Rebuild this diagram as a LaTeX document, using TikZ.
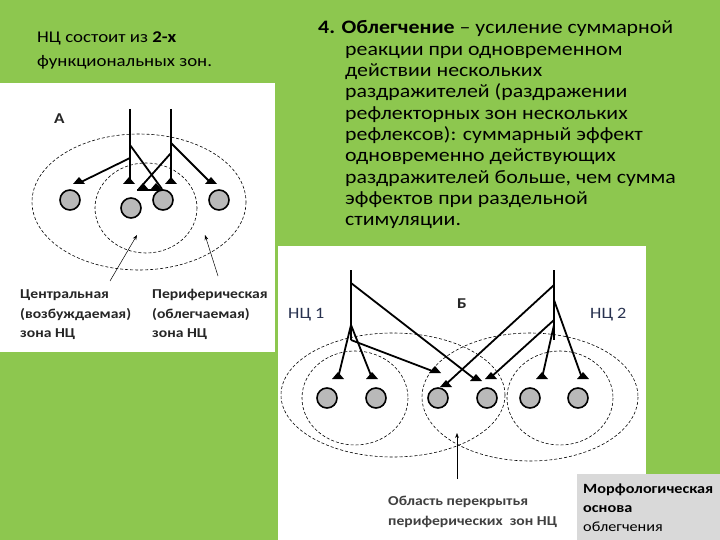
\documentclass[tikz,border=0pt]{standalone}
\usepackage{fontspec}
\setmainfont[FakeStretch=1.15]{Carlito}
\begin{document}
\begin{tikzpicture}[x=1pt,y=-1pt,
  cell/.style={circle,draw=black,line width=1.6pt,fill=gray!55,minimum size=20pt,inner sep=0},
  zone/.style={dashed,line width=0.6pt,dash pattern=on 3pt off 2pt},
  fib/.style={line width=1.8pt},
  thin/.style={-{Stealth[length=5pt]},line width=0.5pt},
  lbl/.style={anchor=base west,inner sep=0,font=\fontsize{13.6}{15}\selectfont\bfseries,text=black!85},
  tx/.style={anchor=base west,inner sep=0,font=\fontsize{19}{21}\selectfont}]
\usetikzlibrary{arrows.meta}
\newcommand\syn[1]{\fill #1 ++(-6,0) -- ++(12,0) -- ++(-6,-7) -- cycle;}
\fill[fill={rgb,255:red,141;green,199;blue,79}] (0,0) rectangle (720,540);
\useasboundingbox (0,0) rectangle (720,540);
\fill[white] (0,83) rectangle (275,352);
\fill[white] (278,246) rectangle (646,540);
\fill[gray!30] (577,474) rectangle (720,540);
% top text
\node[anchor=base west,inner sep=0,font=\fontsize{16.4}{18}\selectfont] (t1) at (37,43) {НЦ состоит из \textbf{2-х}};
\node[anchor=base west,inner sep=0,font=\fontsize{16.4}{18}\selectfont] (t2) at (37,67) {функциональных зон.};
\node[tx] (r1) at (318,34) {\textbf{4. Облегчение} – усиление суммарной};
\foreach \t [count=\i] in {реакции при одновременном,действии нескольких,раздражителей (раздражении,рефлекторных зон нескольких,{рефлексов): суммарный эффект},одновременно действующих,{раздражителей больше, чем сумма},эффектов при раздельной,стимуляции.}
  \node[tx] (r\i x) at (345,34+21.3*\i) {\t};
% Panel A
\node[lbl,font=\fontsize{15}{16}\selectfont\bfseries] (A) at (54,124) {А};
\draw[zone] (139,202) ellipse (107 and 68);
\draw[zone] (146,208) ellipse (51 and 45);
\node[cell] (a1) at (70,200) {};
\node[cell] (a2) at (131,208) {};
\node[cell] (a3) at (163,200) {};
\node[cell] (a4) at (219,200) {};
\draw[fib] (130,109) -- (130,183);
\draw[fib] (171,109) -- (171,183);
\draw[fib] (130,158) -- (79,183);
\draw[fib] (171,143) -- (211,183);
\draw[fib] (130,145) -- (162,189);
\draw[fib] (171,153) -- (139,189);
\draw[fib] (137,190) -- (163,190);
\syn{(79,184)}\syn{(129,184)}\syn{(171,184)}\syn{(211,184)}
\syn{(143,190)}\syn{(156,190)}
\coordinate (aa1) at (110,281); \coordinate (aa2) at (137,235);
\coordinate (ab1) at (218,276); \coordinate (ab2) at (205,235);
\draw[thin] (aa1) -- (aa2);
\draw[thin] (ab1) -- (ab2);
\node[lbl] (la1) at (20,298) {Центральная};
\node[lbl] (la2) at (20,318) {(возбуждаемая)};
\node[lbl] (la3) at (20,337) {зона НЦ};
\node[lbl] (lb1) at (152,298) {Периферическая};
\node[lbl] (lb2) at (152,318) {(облегчаемая)};
\node[lbl] (lb3) at (152,337) {зона НЦ};
% Panel B
\node[lbl,font=\fontsize{15}{16}\selectfont\bfseries] (B) at (457,308) {Б};
\node[lbl,font=\fontsize{15.8}{16}\selectfont,text={rgb,255:red,40;green,50;blue,80}] (n1) at (288,318) {НЦ 1};
\node[lbl,font=\fontsize{15.8}{16}\selectfont,text={rgb,255:red,40;green,50;blue,80}] (n2) at (590,318) {НЦ 2};
\draw[zone] (393,395) ellipse (112 and 62);
\draw[zone] (355,398) ellipse (53 and 47);
\draw[zone] (530,397) ellipse (108 and 64);
\draw[zone] (560,398) ellipse (53 and 47);
\foreach \x [count=\i] in {327,376,438,487,530,578} \node[cell] (b\i) at (\x,398) {};
\draw[fib] (351,270) -- (351,340);
\draw[fib] (554,270) -- (554,340);
\draw[fib] (351,283) -- (476,380);
\draw[fib] (351,325) -- (338,378);
\draw[fib] (351,325) -- (372,378);
\draw[fib] (351,340) -- (435,372);
\draw[fib] (554,285) -- (444,386);
\draw[fib] (554,320) -- (490,378);
\draw[fib] (554,325) -- (542,378);
\draw[fib] (554,300) -- (582,378);
\syn{(338,379)}\syn{(372,379)}\syn{(435,373)}\syn{(476,381)}
\syn{(491,379)}\syn{(542,379)}\syn{(583,379)}\syn{(446,387)}
\coordinate (bb1) at (457,479); \coordinate (bb2) at (457,433);
\draw[thin] (bb1) -- (bb2);
\node[lbl,text=black!75] (o1) at (388,505) {Область перекрытья};
\node[lbl,text=black!75] (o2) at (388,525) {периферических~~зон НЦ};
\node[anchor=base west,inner sep=0,font=\fontsize{14.1}{15}\selectfont\bfseries] (m1) at (583,493) {Морфологическая};
\node[anchor=base west,inner sep=0,font=\fontsize{14.1}{15}\selectfont\bfseries] (m2) at (583,512) {основа};
\node[anchor=base west,inner sep=0,font=\fontsize{14.1}{15}\selectfont] (m3) at (583,531) {облегчения};
\end{tikzpicture}
\end{document}
